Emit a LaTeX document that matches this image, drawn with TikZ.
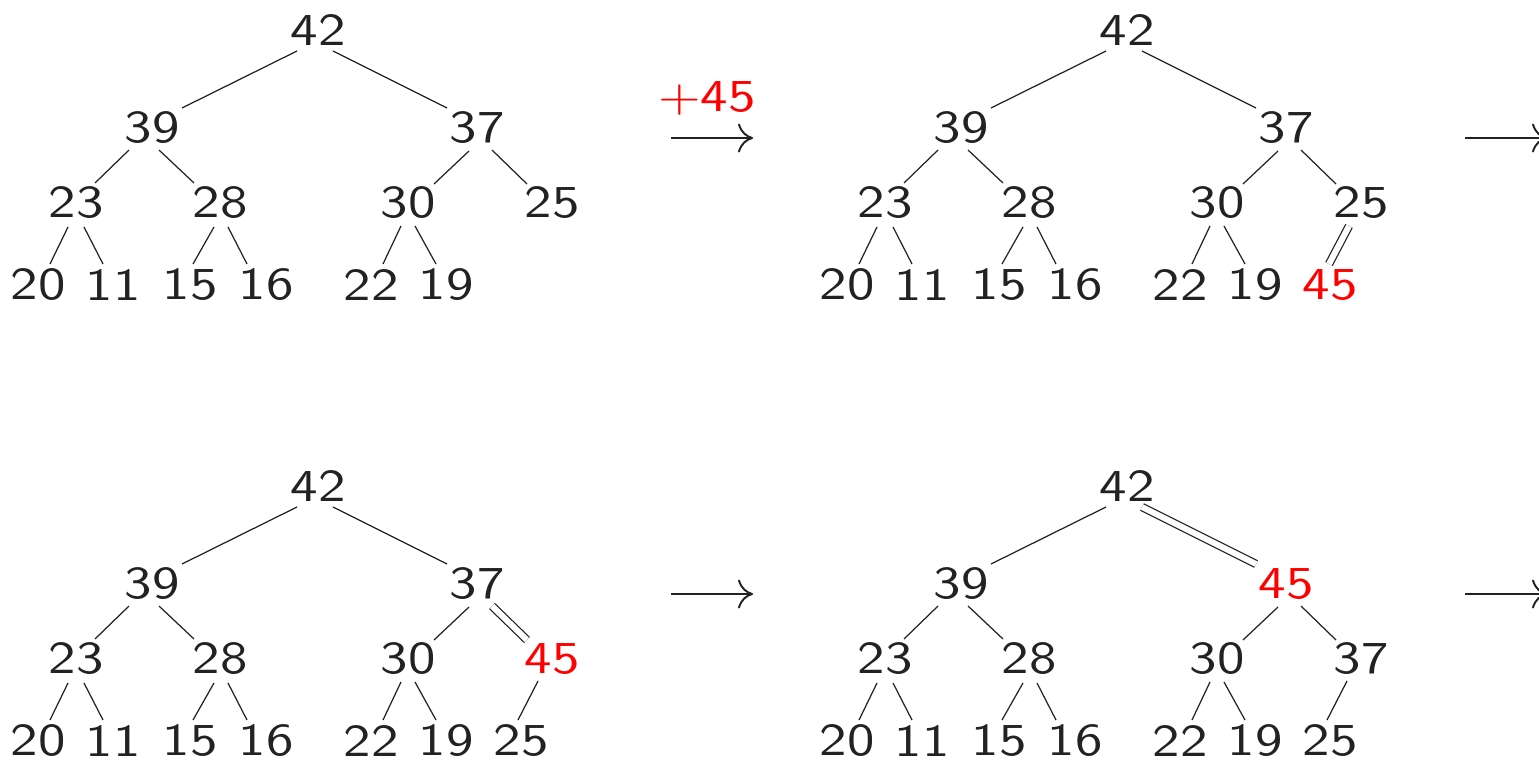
\documentclass[tikz,border=0pt]{standalone}
\usepackage{fontspec}
\usetikzlibrary{arrows.meta,calc}
\newfontfamily\keyfont{lmsans10-regular.otf}[FakeStretch=1.2]
\definecolor{keyGray}{RGB}{34,34,34}
\tikzset{
	key/.style={
		inner sep=0pt,
		font=\keyfont\fontsize{26}{30}\selectfont,
		text=keyGray
	},
	hline/.style={line width=0.7pt, keyGray},
	dline/.style={hline, double, double distance=0.12cm},
	harr/.style={-{Computer Modern Rightarrow[length=0.3cm,width=0.58cm]}, line width=1.1pt, keyGray}
}
\newcommand{\hl}[1]{\textcolor{red}{#1}}
% #1 name, #2 shift, #3 right child, #4 its right child, #5/#6 edge styles
\newcommand{\drawheap}[6]{%
	\begin{scope}[shift={#2}]
		\node[key] (#1r) at (318,30) {42};
		\node[key] (#1a) at (152,128) {39};
		\node[key] (#1b) at (477,128) {#3};
		\node[key] (#1aa) at (76,203) {23};
		\node[key] (#1ab) at (220,203) {28};
		\node[key] (#1ba) at (408,203) {30};
		\node[key] (#1bb) at (552,203) {#4};
		\node[key] (#1aaa) at (38,285) {20};
		\node[key] (#1aab) at (113,285) {11};
		\node[key] (#1aba) at (190,285) {15};
		\node[key] (#1abb) at (266,285) {16};
		\node[key] (#1baa) at (371,285) {22};
		\node[key] (#1bab) at (446,285) {19};
	\end{scope}
	\draw[hline] ($(#1r)+(-21,21)$) -- ($(#1a)+(30,-20)$);
	\draw[hline,#5] ($(#1r)+(15,21)$) -- ($(#1b)+(-30,-20)$);
	\draw[hline] ($(#1a)+(-23,22)$) -- ($(#1aa)+(19,-20)$);
	\draw[hline] ($(#1a)+(7,22)$) -- ($(#1ab)+(-26,-20)$);
	\draw[hline] ($(#1b)+(-8,23)$) -- ($(#1ba)+(26,-19)$);
	\draw[hline,#6] ($(#1b)+(15,22)$) -- ($(#1bb)+(-25,-19)$);
	\draw[hline] ($(#1aa)+(-8,24)$) -- ($(#1aaa)+(12,-21)$);
	\draw[hline] ($(#1aa)+(8,24)$) -- ($(#1aab)+(-10,-21)$);
	\draw[hline] ($(#1ab)+(-6,24)$) -- ($(#1aba)+(3,-21)$);
	\draw[hline] ($(#1ab)+(8,24)$) -- ($(#1abb)+(-19,-21)$);
	\draw[hline] ($(#1ba)+(-7,23)$) -- ($(#1baa)+(12,-21)$);
	\draw[hline] ($(#1ba)+(7,23)$) -- ($(#1bab)+(-10,-21)$);
}

\begin{document}
\begin{tikzpicture}[x=0.02cm, y=-0.02cm]
	\useasboundingbox (0,0) rectangle (1539,760);

	\drawheap{p}{(0,0)}{37}{25}{}{}
	\drawheap{q}{(809,0)}{37}{25}{}{}
	\node[key] (qbba) at (1330,285) {\hl{45}};
	\draw[dline] ($(qbb)+(-12,23)$) -- ($(qbba)+(-1,-21)$);

	\drawheap{s}{(0,456)}{37}{\hl{45}}{}{dline}
	\node[key] (sbba) at (521,741) {25};
	\draw[hline] ($(sbb)+(-14,22)$) -- ($(sbba)+(-3,-21)$);

	\drawheap{t}{(809,456)}{\hl{45}}{37}{dline}{}
	\node[key] (tbba) at (1330,741) {25};
	\draw[hline] ($(tbb)+(-14,22)$) -- ($(tbba)+(-3,-21)$);

	% steps between the heaps
	\coordinate (s1) at (671,138);
	\coordinate (e1) at (753,138);
	\coordinate (s2) at (1465,138);
	\coordinate (e2) at (1547,138);
	\coordinate (s3) at (671,594);
	\coordinate (e3) at (753,594);
	\coordinate (s4) at (1465,594);
	\coordinate (e4) at (1547,594);
	\node[key, text=red] (ins) at (707,98) {+45};
	\draw[harr] (s1) -- (e1);
	\draw[harr] (s2) -- (e2);
	\draw[harr] (s3) -- (e3);
	\draw[harr] (s4) -- (e4);
\end{tikzpicture}
\end{document}
